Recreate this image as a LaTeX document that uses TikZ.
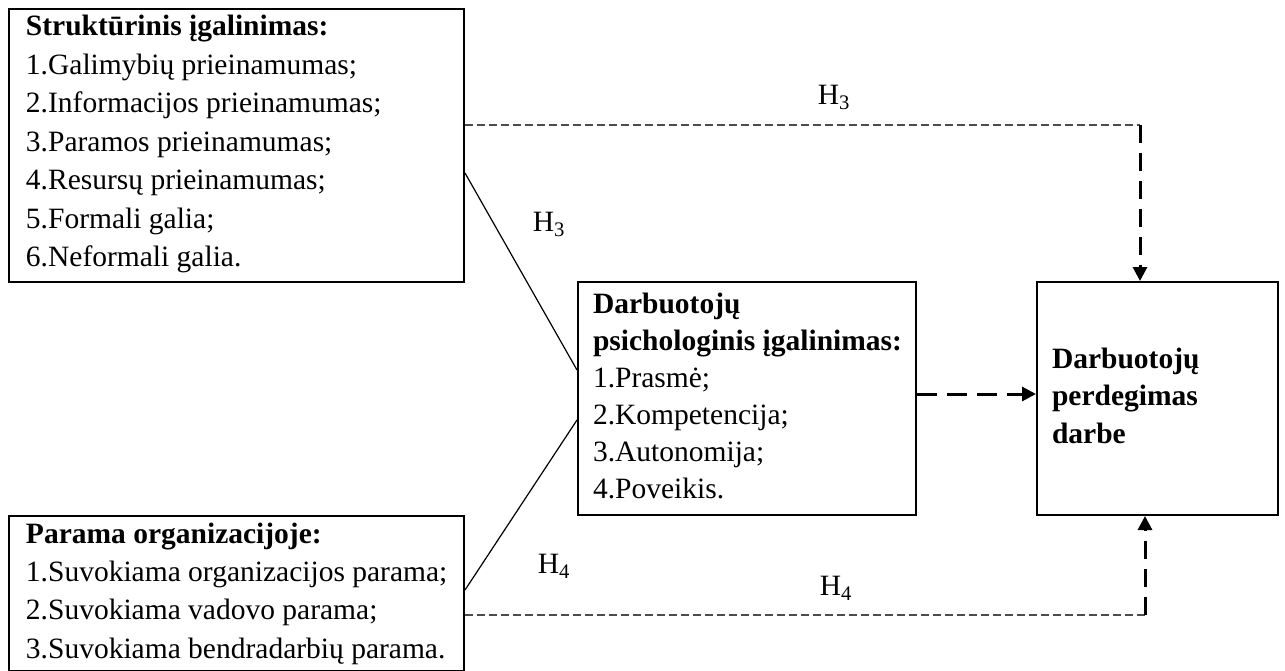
\documentclass[tikz,border=0pt]{standalone}
\usepackage{fontspec}
\setmainfont{Liberation Serif}
\usetikzlibrary{arrows.meta}
\newcommand{\mytextbox}[5]{\begin{minipage}[t][#2][t]{#1}\fontsize{29.5pt}{#5}\selectfont\raggedright\hyphenpenalty=10000\setlength{\parindent}{0pt}\setlength{\leftskip}{#3}\rule{0pt}{#4}}
\newcommand{\myend}{\end{minipage}}
\begin{document}
\begin{tikzpicture}[x=1pt,y=-1pt,
  boxnode/.style={draw=black, line width=2pt, inner sep=0pt, anchor=north west, font=\fontsize{29.5pt}{38.4pt}\selectfont},
  lab/.style={inner sep=0pt, font=\fontsize{29.5pt}{34pt}\selectfont},
  thindash/.style={draw=black!70, line width=1.5pt, dash pattern=on 8pt off 4pt},
  thickdash/.style={draw=black, line width=3pt, dash pattern=on 18pt off 10pt},
  tipstyle/.style={-{Triangle[length=14pt,width=14pt]}},
  thinline/.style={draw=black, line width=1.2pt}]
\useasboundingbox (0,0) rectangle (1285,671);

\node[boxnode] (b1) at (8,8) {\mytextbox{455pt}{273pt}{17pt}{27pt}{38.5pt}\textbf{Struktūrinis įgalinimas:}\\
1.Galimybių prieinamumas;\\
2.Informacijos prieinamumas;\\
3.Paramos prieinamumas;\\
4.Resursų prieinamumas;\\
5.Formali galia;\\
6.Neformali galia.\myend};

\node[boxnode] (b2) at (577,281) {\mytextbox{338pt}{233pt}{15pt}{31pt}{37pt}\textbf{Darbuotojų}\\
\textbf{psichologinis įgalinimas:}\\
1.Prasmė;\\
2.Kompetencija;\\
3.Autonomija;\\
4.Poveikis.\myend};

\node[boxnode] (b3) at (1036,281) {\mytextbox{241pt}{233pt}{15pt}{86pt}{37.5pt}\textbf{Darbuotojų}\\
\textbf{perdegimas}\\
\textbf{darbe}\myend};

\node[boxnode] (b4) at (8,515) {\mytextbox{455pt}{155pt}{17pt}{27pt}{38.4pt}\textbf{Parama organizacijoje:}\\
1.Suvokiama organizacijos parama;\\
2.Suvokiama vadovo parama;\\
3.Suvokiama bendradarbių parama.\myend};

% corner points
\coordinate (c3) at (1140,125);
\coordinate (c4) at (1145,615);
\coordinate (d1) at (463,173);
\coordinate (d2) at (577,370);
\coordinate (d3) at (463,590);
\coordinate (d4) at (577,420);

% top H3 dashed connector
\draw[thindash] (b1.east |- c3) -- (c3);
\draw[thickdash, tipstyle] (c3) -- (c3 |- b3.north);
% bottom H4 dashed connector
\draw[thindash] (b4.east |- c4) -- (c4);
\draw[thickdash, tipstyle] (c4) -- (c4 |- b3.south);
% middle arrow
\draw[thickdash, tipstyle, dash pattern=on 20pt off 10pt] (b2.east |- 0,394) -- (b3.west |- 0,394);
% diagonals
\draw[thinline] (b1.east |- d1) -- (b2.west |- d2);
\draw[thinline] (b4.east |- d3) -- (b2.west |- d4);

% labels
\node[lab] (h3a) at (834,97) {H\textsubscript{3}};
\node[lab] (h3b) at (549,224) {H\textsubscript{3}};
\node[lab] (h4a) at (554,566) {H\textsubscript{4}};
\node[lab] (h4b) at (836,588) {H\textsubscript{4}};
\end{tikzpicture}
\end{document}
